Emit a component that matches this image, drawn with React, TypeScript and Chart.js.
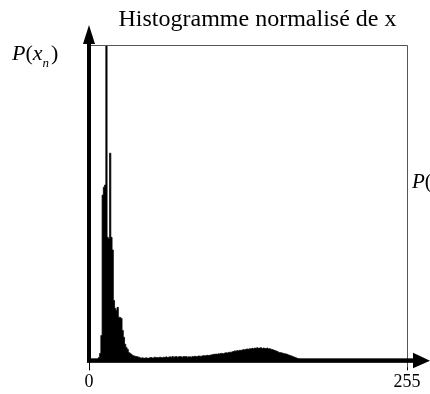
import React, { useEffect, useRef } from "react";
import { Chart, registerables } from "chart.js";

Chart.register(...registerables);

const chartTitle = "Histogramme normalisé de x";
const xTickValues = [0, 255];
// relative frequency of each grey level 0..255 (peak = 100)
const freq = [
  0, 0, 0, 0, 0, 0, 0, 0, 0.9, 2.2,
  7.9, 52.4, 54.9, 55.6, 100, 39.0, 38.5, 65.7, 39.0, 35.0,
  19.0, 16.5, 15.9, 16.8, 13.7, 13.6, 13.3, 9.5, 7.3, 5.1,
  4.1, 3.5, 2.5, 2.2, 1.9, 1.6, 1.4, 1.3, 1.2, 1.1,
  1.0, 0.8, 0.7, 0.8, 0.6, 0.7, 0.8, 0.6, 0.7, 0.8,
  0.9, 0.7, 0.8, 1.0, 0.8, 0.9, 0.8, 1.0, 0.9, 0.8,
  1.0, 0.9, 1.1, 0.9, 1.0, 1.1, 1.0, 1.2, 1.0, 1.1,
  1.2, 1.0, 1.1, 1.2, 1.1, 1.0, 1.2, 1.1, 1.2, 1.0,
  1.1, 1.1, 1.0, 1.2, 1.1, 1.3, 1.2, 1.2, 1.4, 1.3,
  1.3, 1.4, 1.5, 1.4, 1.5, 1.6, 1.5, 1.6, 1.7, 1.8,
  1.9, 1.9, 2.0, 1.9, 2.1, 2.0, 2.2, 2.2, 2.1, 2.3,
  2.4, 2.3, 2.5, 2.6, 2.5, 2.7, 2.8, 3.0, 2.9, 3.1,
  3.0, 3.2, 3.1, 3.3, 3.4, 3.3, 3.5, 3.6, 3.5, 3.7,
  3.6, 3.8, 3.7, 3.9, 3.8, 4.0, 3.8, 3.9, 4.0, 3.7,
  3.9, 3.8, 3.7, 3.9, 3.6, 3.7, 3.5, 3.4, 3.3, 3.1,
  3.0, 2.8, 2.6, 2.5, 2.4, 2.3, 2.2, 2.1, 2.0, 1.9,
  1.7, 1.6, 1.4, 1.3, 1.1, 0.95, 0.8, 0.6, 0.45, 0.3,
  0.2, 0.15, 0.1, 0.1, 0.1, 0.15, 0.1, 0.1, 0.1, 0.1,
  0.1, 0.05, 0.1, 0.1, 0.05, 0.1, 0.05, 0.05, 0.1, 0.05,
  0.05, 0.05, 0.1, 0.05, 0.05, 0.05, 0.1, 0.05, 0.05, 0.05,
  0.05, 0.1, 0.05, 0.05, 0.05, 0.1, 0.05, 0.05, 0.05, 0.05,
  0.1, 0.05, 0.1, 0.05, 0.1, 0.1, 0.05, 0.05, 0.1, 0.05,
  0.05, 0.05, 0.05, 0.1, 0.05, 0.05, 0.05, 0.05, 0.05, 0.05,
  0.05, 0.05, 0.05, 0.05, 0.05, 0.05, 0.05, 0.05, 0.05, 0.05,
  0.05, 0.05, 0.05, 0.05, 0.05, 0.05, 0.05, 0.05, 0.05, 0.05,
  0.05, 0.05, 0.05, 0.05, 0.05, 0,
];

const SERIF = "'Liberation Serif', 'Times New Roman', serif";

export default function App() {
  const ref = useRef<HTMLCanvasElement>(null);

  useEffect(() => {
    document.body.style.margin = "0";
    const canvas = ref.current;
    if (!canvas) return;

    const deco = {
      id: "deco",
      afterDraw(chart: any) {
        const { ctx, chartArea: a } = chart;
        ctx.save();
        // frame (top and right)
        ctx.strokeStyle = "#555";
        ctx.lineWidth = 1;
        ctx.beginPath();
        ctx.moveTo(a.left, a.top + 0.5);
        ctx.lineTo(a.right + 0.5, a.top + 0.5);
        ctx.lineTo(a.right + 0.5, a.bottom + 7);
        ctx.stroke();

        ctx.fillStyle = "#000";
        // x axis arrow
        ctx.fillRect(a.left - 2, a.bottom - 2, a.right + 7 - (a.left - 2), 4.5);
        ctx.beginPath();
        ctx.moveTo(a.right + 6, a.bottom - 7.5);
        ctx.lineTo(a.right + 6, a.bottom + 8);
        ctx.lineTo(a.right + 23, a.bottom + 0.3);
        ctx.closePath();
        ctx.fill();
        // y axis arrow
        ctx.fillRect(a.left - 2, a.top - 1, 4, a.bottom - a.top + 3);
        ctx.beginPath();
        ctx.moveTo(a.left - 6, a.top - 1);
        ctx.lineTo(a.left + 6, a.top - 1);
        ctx.lineTo(a.left, a.top - 20);
        ctx.closePath();
        ctx.fill();

        // title
        ctx.textBaseline = "alphabetic";
        ctx.textAlign = "center";
        ctx.font = `24px ${SERIF}`;
        ctx.fillText(chartTitle, 257.5, 26);

        // y label P(x_n)
        ctx.textAlign = "left";
        let x = 12;
        const yb = 60;
        const put = (t: string, font: string, dy = 0) => {
          ctx.font = font;
          ctx.fillText(t, x, yb + dy);
          x += ctx.measureText(t).width;
        };
        put("P", `italic 22px ${SERIF}`);
        put("(", `22px ${SERIF}`);
        put("x", `italic 22px ${SERIF}`);
        put("n", `italic 13px ${SERIF}`, 7);
        x += 2;
        put(")", `22px ${SERIF}`);

        // clipped label on the right
        x = 412;
        ctx.font = `italic 21px ${SERIF}`;
        ctx.fillText("P", x, 188);
        x += ctx.measureText("P").width;
        ctx.font = `21px ${SERIF}`;
        ctx.fillText("(", x, 188);
        ctx.restore();
      },
    };

    const chart = new Chart(canvas, {
      type: "line",
      data: {
        datasets: [
          {
            data: freq.map((v, i) => ({ x: i, y: v })),
            stepped: "middle",
            fill: "origin",
            backgroundColor: "#000",
            borderColor: "#000",
            borderWidth: 0.8,
            pointRadius: 0,
          },
        ],
      },
      options: {
        animation: false,
        responsive: false,
        devicePixelRatio: 1,
        layout: { padding: { left: 89, right: 23, top: 45, bottom: 0 } },
        plugins: {
          legend: { display: false },
          tooltip: { enabled: false },
          title: { display: false },
        },
        scales: {
          x: {
            type: "linear",
            min: 0,
            max: 255,
            afterBuildTicks: (axis: any) => {
              axis.ticks = xTickValues.map((v) => ({ value: v }));
            },
            ticks: {
              autoSkip: false,
              maxRotation: 0,
              padding: 4,
              color: "#000",
              font: { family: SERIF, size: 18, lineHeight: 0.87 },
            },
            grid: {
              drawOnChartArea: false,
              drawTicks: true,
              tickLength: 10,
              color: "#000",
              tickColor: "#000",
            },
            border: { display: false },
          },
          y: { display: false, min: 0, max: 100 },
        },
      },
      plugins: [deco],
    });
    return () => chart.destroy();
  }, []);

  return (
    <div style={{ width: 430, height: 394 }}>
      <canvas ref={ref} width={430} height={394} style={{ display: "block" }} />
    </div>
  );
}
